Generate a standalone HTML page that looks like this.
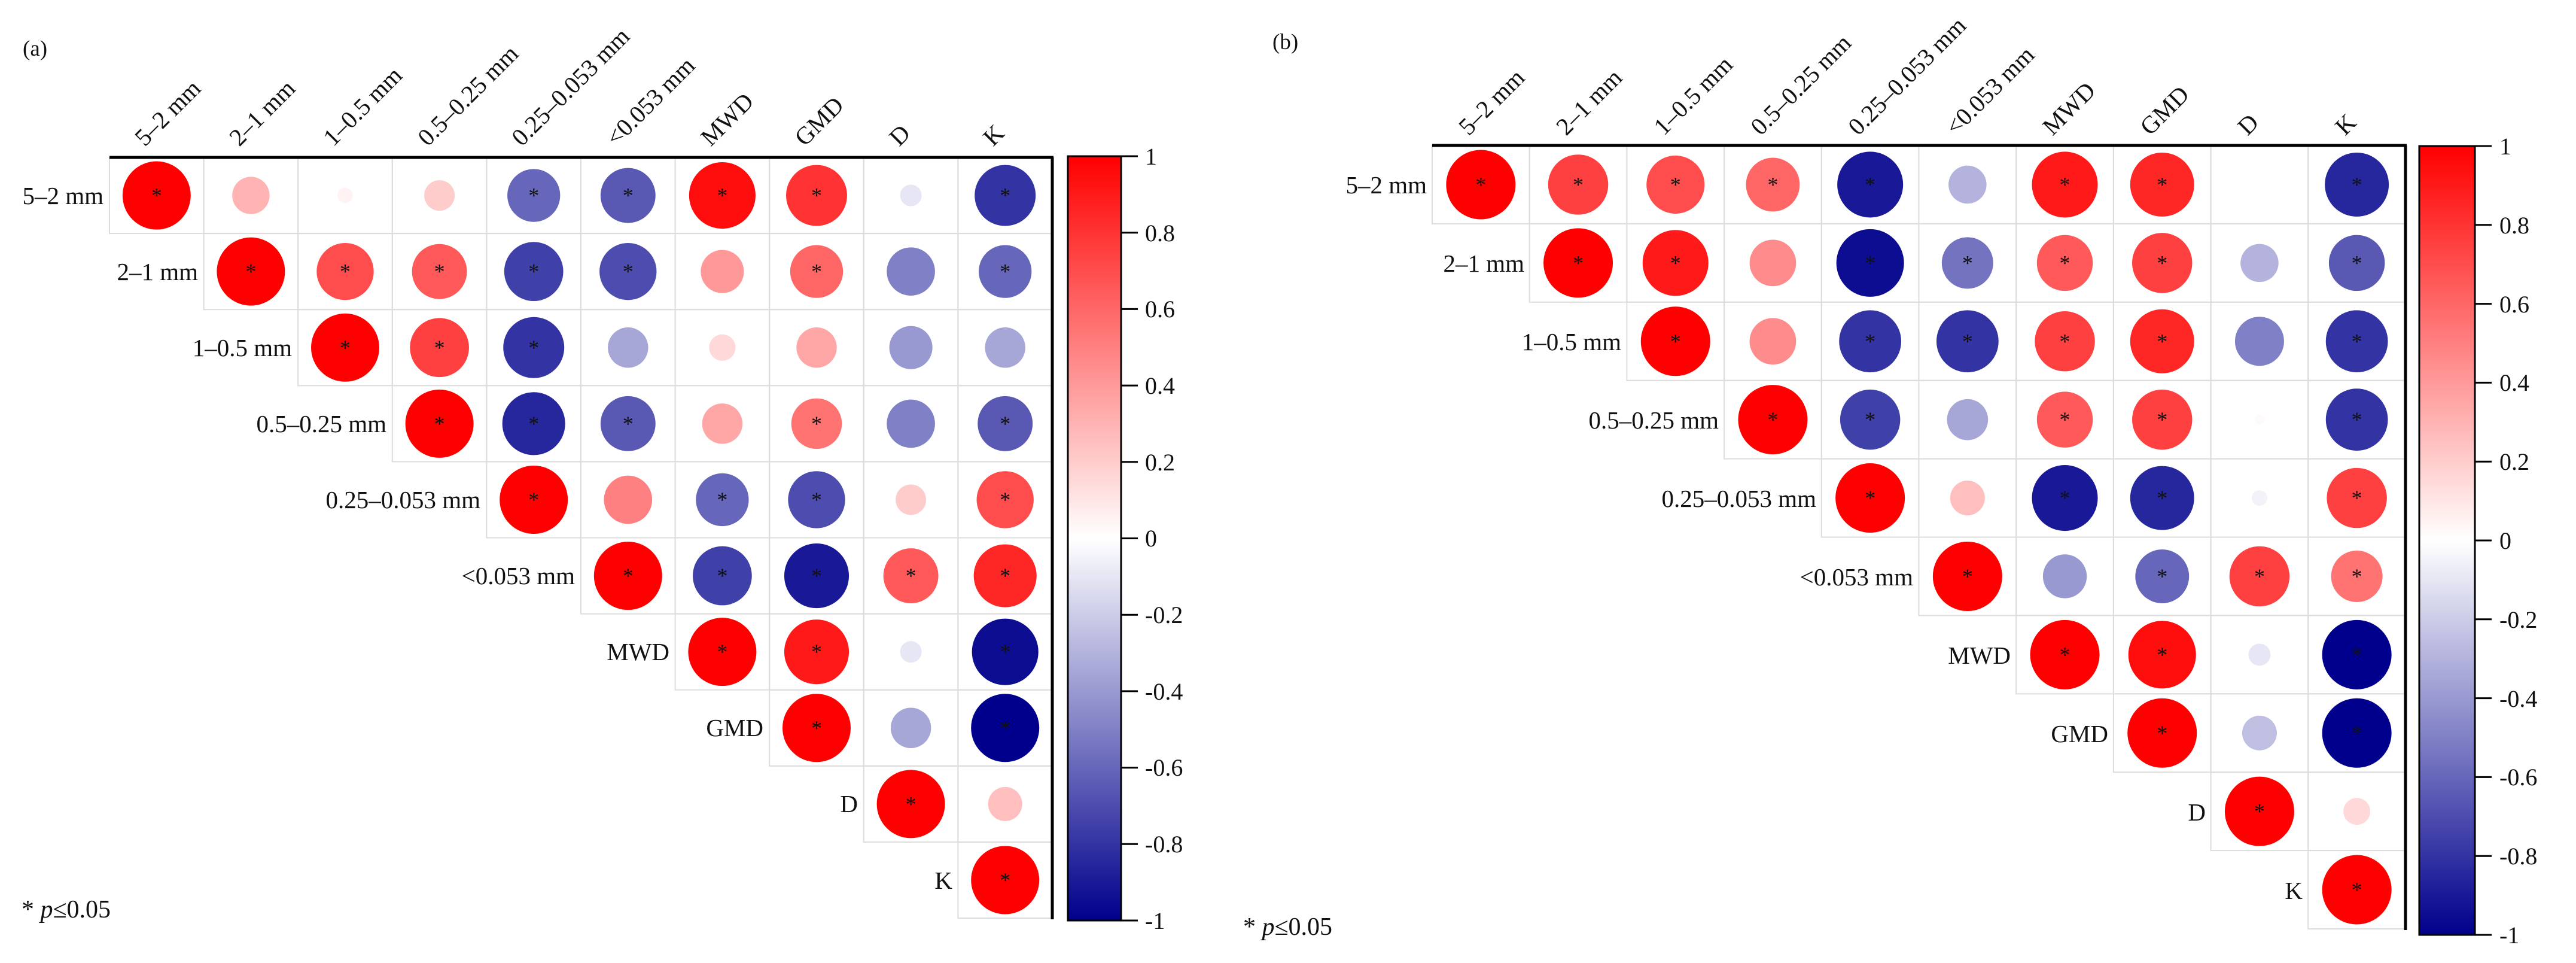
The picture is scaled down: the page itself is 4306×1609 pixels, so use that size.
<!DOCTYPE html>
<html><head><meta charset="utf-8">
<style>
html,body{margin:0;padding:0;background:#fff;}
svg{display:block;}
text{font-family:"Liberation Serif",serif;fill:#111;}
</style></head>
<body>
<svg id="s" width="4306" height="1609" viewBox="0 0 4306 1609" xmlns="http://www.w3.org/2000/svg">
<defs>
<linearGradient id="cb" x1="0" y1="0" x2="0" y2="1">
<stop offset="0" stop-color="#ff0000"/>
<stop offset="0.25" stop-color="#ff8080"/>
<stop offset="0.5" stop-color="#ffffff"/>
<stop offset="0.75" stop-color="#8080c6"/>
<stop offset="1" stop-color="#00008c"/>
</linearGradient>
</defs>
<g id="ga"></g>
<g id="gb"></g>

<!-- Panel a texts -->
<text x="38" y="93" font-size="37">(a)</text>
<g font-size="41" text-anchor="end">
<text x="173" y="341">5–2 mm</text>
<text x="331" y="468">2–1 mm</text>
<text x="488" y="595">1–0.5 mm</text>
<text x="646" y="722">0.5–0.25 mm</text>
<text x="803" y="849">0.25–0.053 mm</text>
<text x="961" y="976">&lt;0.053 mm</text>
<text x="1119" y="1103">MWD</text>
<text x="1276" y="1230">GMD</text>
<text x="1434" y="1357">D</text>
<text x="1592" y="1485">K</text>
</g>
<g font-size="41">
<text transform="translate(242,246) rotate(-45)">5–2 mm</text>
<text transform="translate(400,246) rotate(-45)">2–1 mm</text>
<text transform="translate(557,246) rotate(-45)">1–0.5 mm</text>
<text transform="translate(715,246) rotate(-45)">0.5–0.25 mm</text>
<text transform="translate(872,246) rotate(-45)">0.25–0.053 mm</text>
<text transform="translate(1030,246) rotate(-45)">&lt;0.053 mm</text>
<text transform="translate(1188,246) rotate(-45)">MWD</text>
<text transform="translate(1345,246) rotate(-45)">GMD</text>
<text transform="translate(1503,246) rotate(-45)">D</text>
<text transform="translate(1660,246) rotate(-45)">K</text>
</g>
<text x="36" y="1533" font-size="42">* <tspan font-style="italic">p</tspan>≤0.05</text>
<rect x="1785" y="261" width="89" height="1277" fill="url(#cb)" stroke="#000" stroke-width="3"/>
<g stroke="#000" stroke-width="3">
<line x1="1874" y1="261" x2="1902" y2="261"/><line x1="1874" y1="388.7" x2="1902" y2="388.7"/>
<line x1="1874" y1="516.4" x2="1902" y2="516.4"/><line x1="1874" y1="644.1" x2="1902" y2="644.1"/>
<line x1="1874" y1="771.8" x2="1902" y2="771.8"/><line x1="1874" y1="899.5" x2="1902" y2="899.5"/>
<line x1="1874" y1="1027.2" x2="1902" y2="1027.2"/><line x1="1874" y1="1154.9" x2="1902" y2="1154.9"/>
<line x1="1874" y1="1282.6" x2="1902" y2="1282.6"/><line x1="1874" y1="1410.3" x2="1902" y2="1410.3"/>
<line x1="1874" y1="1538" x2="1902" y2="1538"/>
</g>
<g font-size="40">
<text x="1914" y="275">1</text><text x="1914" y="403">0.8</text><text x="1914" y="530">0.6</text>
<text x="1914" y="658">0.4</text><text x="1914" y="786">0.2</text><text x="1914" y="913">0</text>
<text x="1914" y="1041">-0.2</text><text x="1914" y="1169">-0.4</text><text x="1914" y="1296">-0.6</text>
<text x="1914" y="1424">-0.8</text><text x="1914" y="1552">-1</text>
</g>

<!-- Panel b texts -->
<text x="2127" y="82" font-size="37">(b)</text>
<g font-size="41" text-anchor="end">
<text x="2385" y="323">5–2 mm</text>
<text x="2548" y="454">2–1 mm</text>
<text x="2710" y="585">1–0.5 mm</text>
<text x="2873" y="716">0.5–0.25 mm</text>
<text x="3036" y="847">0.25–0.053 mm</text>
<text x="3198" y="978">&lt;0.053 mm</text>
<text x="3361" y="1109">MWD</text>
<text x="3524" y="1240">GMD</text>
<text x="3687" y="1371">D</text>
<text x="3849" y="1502">K</text>
</g>
<g font-size="41">
<text transform="translate(2455,228) rotate(-45)">5–2 mm</text>
<text transform="translate(2618,228) rotate(-45)">2–1 mm</text>
<text transform="translate(2781,228) rotate(-45)">1–0.5 mm</text>
<text transform="translate(2943,228) rotate(-45)">0.5–0.25 mm</text>
<text transform="translate(3106,228) rotate(-45)">0.25–0.053 mm</text>
<text transform="translate(3269,228) rotate(-45)">&lt;0.053 mm</text>
<text transform="translate(3431,228) rotate(-45)">MWD</text>
<text transform="translate(3594,228) rotate(-45)">GMD</text>
<text transform="translate(3757,228) rotate(-45)">D</text>
<text transform="translate(3920,228) rotate(-45)">K</text>
</g>
<text x="2078" y="1562" font-size="42">* <tspan font-style="italic">p</tspan>≤0.05</text>
<rect x="4044" y="244" width="93" height="1318" fill="url(#cb)" stroke="#000" stroke-width="3"/>
<g stroke="#000" stroke-width="3">
<line x1="4137" y1="244" x2="4165" y2="244"/><line x1="4137" y1="375.8" x2="4165" y2="375.8"/>
<line x1="4137" y1="507.6" x2="4165" y2="507.6"/><line x1="4137" y1="639.4" x2="4165" y2="639.4"/>
<line x1="4137" y1="771.2" x2="4165" y2="771.2"/><line x1="4137" y1="903" x2="4165" y2="903"/>
<line x1="4137" y1="1034.8" x2="4165" y2="1034.8"/><line x1="4137" y1="1166.6" x2="4165" y2="1166.6"/>
<line x1="4137" y1="1298.4" x2="4165" y2="1298.4"/><line x1="4137" y1="1430.2" x2="4165" y2="1430.2"/>
<line x1="4137" y1="1562" x2="4165" y2="1562"/>
</g>
<g font-size="40">
<text x="4178" y="258">1</text><text x="4178" y="390">0.8</text><text x="4178" y="522">0.6</text>
<text x="4178" y="653">0.4</text><text x="4178" y="785">0.2</text><text x="4178" y="917">0</text>
<text x="4178" y="1049">-0.2</text><text x="4178" y="1181">-0.4</text><text x="4178" y="1312">-0.6</text>
<text x="4178" y="1444">-0.8</text><text x="4178" y="1576">-1</text>
</g>
</svg>
<script>
(function(){
var NS="http://www.w3.org/2000/svg";
function col(r){
  if(r>=0){var v=Math.round(255*(1-r));return "rgb(255,"+v+","+v+")";}
  var t=-r;var v=Math.round(255*(1-t));var b=Math.round(255-115*t);return "rgb("+v+","+v+","+b+")";
}
var A=[
[[1,1],[0.3,0],[0.05,0],[0.2,0],[-0.6,1],[-0.65,1],[0.95,1],[0.8,1],[-0.1,0],[-0.8,1]],
[[1,1],[0.7,1],[0.65,1],[-0.75,1],[-0.7,1],[0.4,0],[0.6,1],[-0.5,0],[-0.6,1]],
[[1,1],[0.75,1],[-0.8,1],[-0.35,0],[0.15,0],[0.35,0],[-0.4,0],[-0.35,0]],
[[1,1],[-0.85,1],[-0.65,1],[0.35,0],[0.55,1],[-0.5,0],[-0.65,1]],
[[1,1],[0.5,0],[-0.6,1],[-0.7,1],[0.2,0],[0.7,1]],
[[1,1],[-0.75,1],[-0.9,1],[0.65,1],[0.85,1]],
[[1,1],[0.9,1],[-0.1,0],[-0.95,1]],
[[1,1],[-0.35,0],[-1,1]],
[[1,1],[0.25,0]],
[[1,1]]];
var B=[
[[1,1],[0.75,1],[0.7,1],[0.6,1],[-0.9,1],[-0.3,0],[0.9,1],[0.85,1],[0.0,0],[-0.85,1]],
[[1,1],[0.9,1],[0.45,0],[-0.95,1],[-0.55,1],[0.65,1],[0.75,1],[-0.3,0],[-0.65,1]],
[[1,1],[0.45,0],[-0.8,1],[-0.8,1],[0.75,1],[0.85,1],[-0.5,0],[-0.8,1]],
[[1,1],[-0.75,1],[-0.35,0],[0.65,1],[0.75,1],[0.02,0],[-0.8,1]],
[[1,1],[0.25,0],[-0.9,1],[-0.85,1],[-0.05,0],[0.75,1]],
[[1,1],[-0.4,0],[-0.6,1],[0.75,1],[0.55,1]],
[[1,1],[0.95,1],[-0.1,0],[-1,1]],
[[1,1],[-0.25,0],[-1,1]],
[[1,1],[0.15,0]],
[[1,1]]];
function draw(g,D,x0,y0,cw,ch,R){
  var el=document.getElementById(g);
  function mk(t,a){var e=document.createElementNS(NS,t);for(var k in a)e.setAttribute(k,a[k]);el.appendChild(e);return e;}
  for(var i=0;i<10;i++)for(var j=i;j<10;j++){
    mk("rect",{x:x0+j*cw,y:y0+i*ch,width:cw,height:ch,fill:"none",stroke:"#dcdcdc","stroke-width":2});
  }
  for(var i=0;i<10;i++)for(var j=i;j<10;j++){
    var d=D[i][j-i];var cx=x0+j*cw+cw/2,cy=y0+i*ch+ch/2;
    var r=R*Math.sqrt(Math.abs(d[0]));
    if(r>0.5)mk("circle",{cx:cx,cy:cy,r:r,fill:col(d[0])});
    if(d[1]){var t=mk("text",{x:cx,y:cy+12,"text-anchor":"middle","font-size":"36"});t.textContent="*";}
  }
  var W=cw*10,H=ch*10;
  mk("line",{x1:x0,y1:y0,x2:x0+W+2,y2:y0,stroke:"#000","stroke-width":5});
  mk("line",{x1:x0+W,y1:y0,x2:x0+W,y2:y0+H+2,stroke:"#000","stroke-width":5});
}
draw("ga",A,183,263,157.6,127.1,57);
draw("gb",B,2394,243,162.7,130.9,58);
})();
</script>
</body></html>
